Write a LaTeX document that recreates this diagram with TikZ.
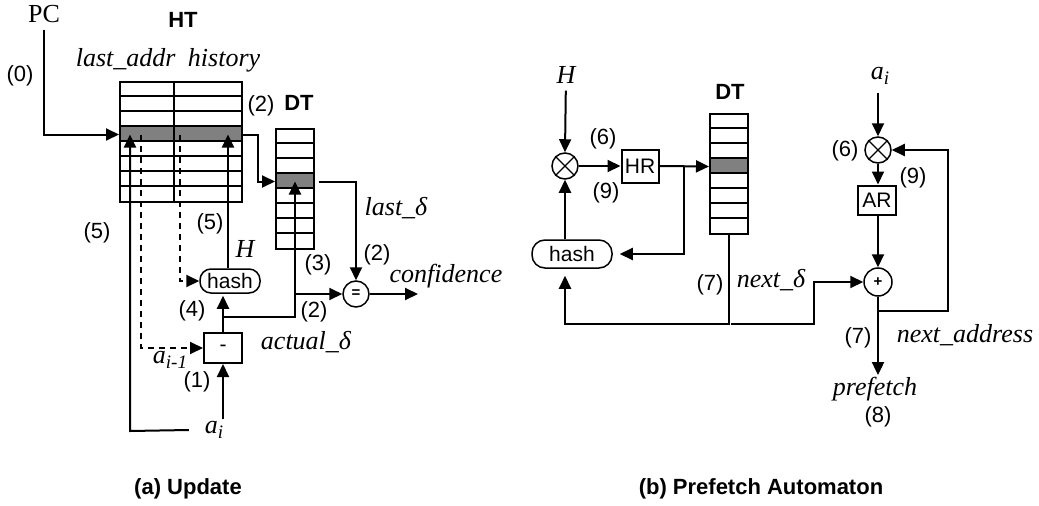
\documentclass[tikz,border=0pt]{standalone}
\usepackage{fontspec}
\setmainfont{Liberation Serif}
\setsansfont{Liberation Sans}
\usetikzlibrary{arrows.meta,calc}

\newcommand{\lowidx}[1]{\raisebox{-0.4ex}{\fontsize{19}{19}\selectfont #1}}

\begin{document}
\begin{tikzpicture}[x=1pt,y=-1pt,line width=2pt,
  arr/.style={-{Triangle[length=13pt,width=12pt]}},
  dasharr/.style={arr,dash pattern=on 6pt off 5pt},
  lbl/.style={font=\sffamily\fontsize{22}{24}\selectfont,inner sep=1pt},
  var/.style={font=\fontsize{26}{28}\selectfont\itshape,inner sep=1pt},
  ttl/.style={font=\sffamily\bfseries\fontsize{22}{24}\selectfont,inner sep=1pt},
  box/.style={draw,inner sep=0pt,font=\sffamily\fontsize{21}{23}\selectfont},
  hashbox/.style={draw,line width=1.5pt,rounded corners=11pt,minimum height=24pt,inner sep=0pt,font=\sffamily\fontsize{21}{23}\selectfont},
  op/.style={draw,line width=1.5pt,circle,minimum size=26pt,inner sep=0pt,font=\sffamily\bfseries\fontsize{15}{15}\selectfont},
  selrow/.style={fill=gray,inner sep=0pt,minimum width=#1,minimum height=15pt},
  tbl/.style={draw,inner sep=0pt,minimum width=#1,minimum height=120pt}]
\useasboundingbox (0,0) rectangle (1039,506);

% (a) update
\begin{scope}
\node[font=\fontsize{26}{28}\selectfont,inner sep=1pt] (PC) at (44,14) {PC};
\node[ttl] (HTlbl) at (183,20) {HT};
\node[var] (cols) at (168,60) {last\_addr\hspace{6pt} history};
\node[selrow=122pt] (HTrow) at (181,134.5) {};
\node[tbl=122pt] (HT) at (181,142) {};
\foreach \k in {1,...,7}
{
 \draw (HT.north west) ++(0,15*\k) -- ++(122,0);
}
\draw (HT.north) ++(-7,0) -- ++(0,120);

\node[ttl] (DTAlbl) at (299,103) {DT};
\node[selrow=38pt] (DTArow) at (295,181.5) {};
\node[tbl=38pt] (DTA) at (295,189) {};
\foreach \k in {1,...,7}
{
 \draw (DTA.north west) ++(0,15*\k) -- ++(38,0);
}

\node[op] (eq) at (356,294) {=};
\node[hashbox,minimum width=60pt] (hashA) at (230,281) {hash};
\node[box,minimum width=38pt,minimum height=30pt] (sub) at (223,348) {-};
\node[var] (aiA) at (214,430) {a\lowidx{i}};
\coordinate (confout) at (418,294);
\coordinate (jA) at (223,317);
\coordinate (loopA) at (130,431);
\coordinate (dA) at (141,135);
\coordinate (dB) at (180,135);

\draw[arr,shorten <=5pt] (PC.south) |- (HTrow.west);
\draw[arr] (HTrow.east) -- ++(15,0) |- (DTArow.west);
\draw[arr,shorten <=4pt] (DTArow.east) -| (eq.north);
\draw[arr] (eq.east) -- (confout);
\draw[arr,shorten >=2pt] (sub.north) -- (sub.north |- hashA.south);
\draw[arr] (jA) -| (DTArow.center);
\draw[arr] (eq.west -| DTArow.center) -- (eq.west);
\draw[arr] ([xshift=-2pt]hashA.north) -- ([xshift=-2pt]hashA.north |- HTrow.center);
\draw[arr] (sub.south |- aiA.north) -- (sub.south);
\draw[arr] ([xshift=-14pt]aiA.west) -- (loopA) -- (loopA |- HTrow.center);
\draw[dasharr] (dA) |- (sub.west);
\draw[dasharr] (dB) |- (hashA.west);

\node[lbl] (n0) at (20,76) {(0)};
\node[lbl] (n2a) at (261,106) {(2)};
\node[lbl] (n5a) at (97,233) {(5)};
\node[lbl] (n5b) at (210,224) {(5)};
\node[var] (HA) at (245,249) {H};
\node[lbl] (n3) at (318,265) {(3)};
\node[lbl] (n2b) at (377,255) {(2)};
\node[lbl] (n2c) at (314,312) {(2)};
\node[lbl] (n4) at (192,311) {(4)};
\node[lbl] (n1) at (197,382) {(1)};
\node[var] (aprev) at (170,360) {a\lowidx{i-1}};
\node[var] (lastd) at (396,208) {last\_δ};
\node[var] (conf) at (446,276) {confidence};
\node[var] (actd) at (306,342) {actual\_δ};
\node[ttl] (capA) at (188,489) {(a) Update};
\end{scope}

% (b) prefetch automaton
\begin{scope}
\node[var] (Hb) at (566,75) {H};
\node[op] (mulB) at (565,166) {};
\draw[line width=1.3pt] (mulB.north west) -- (mulB.south east) (mulB.north east) -- (mulB.south west);
\node[box,minimum width=37pt,minimum height=33pt] (HR) at (640,166) {HR};
\node[ttl] (DTBlbl) at (730,92) {DT};
\node[selrow=38pt] (DTBrow) at (729,166.5) {};
\node[tbl=38pt] (DTB) at (729,174) {};
\foreach \k in {1,...,7}
{
 \draw (DTB.north west) ++(0,15*\k) -- ++(38,0);
}
\node[hashbox,minimum width=80pt,minimum height=28pt,rounded corners=13pt] (hashB) at (572,254) {hash};

\node[var] (aiB) at (880,76) {a\lowidx{i}};
\node[op] (mulC) at (878,150) {};
\draw[line width=1.3pt] (mulC.north west) -- (mulC.south east) (mulC.north east) -- (mulC.south west);
\node[box,minimum width=38pt,minimum height=29pt] (AR) at (877,200) {AR};
\node[op,minimum size=28pt] (plus) at (878,282) {+};
\node[var] (pf) at (875,389) {prefetch};
\coordinate (fbB) at (878,311);

\draw[arr,shorten <=5pt] (Hb) -- (mulB.north);
\draw[arr] (mulB.east) -- (HR.west);
\draw[arr] (HR.east) -- (DTBrow.west);
\draw[arr,shorten >=7pt] ($(HR.east)!0.5!(DTBrow.west)$) |- (hashB.east);
\draw[arr] (mulB |- hashB.north) -- (mulB.south);
\draw[arr,shorten >=7pt] (DTB.south) -- ++(0,89) coordinate (botB) -| (mulB |- hashB.south);
\draw[arr] ([xshift=2pt]botB) -- ++(83,0) |- (plus.west);
\draw[arr,shorten <=6pt] (mulC |- aiB.south) -- (mulC.north);
\draw[arr] (mulC.south) -- (mulC.south |- AR.north);
\draw[arr] (plus |- AR.south) -- (plus.north);
\draw[arr] (plus.south) -- (plus.south |- pf.north);
\draw[arr] (fbB) -- ++(70,0) |- (mulC.east);

\node[lbl] (n6a) at (603,139) {(6)};
\node[lbl] (n9a) at (606,193) {(9)};
\node[lbl] (n7a) at (710,285) {(7)};
\node[var] (nextd) at (771,280) {next\_δ};
\node[lbl] (n6b) at (845,151) {(6)};
\node[lbl] (n9b) at (913,178) {(9)};
\node[lbl] (n7b) at (858,338) {(7)};
\node[var] (nexta) at (965,335) {next\_address};
\node[lbl] (n8) at (878,417) {(8)};
\node[ttl] (capB) at (761,489) {(b) Prefetch Automaton};
\end{scope}

\end{tikzpicture}
\end{document}
